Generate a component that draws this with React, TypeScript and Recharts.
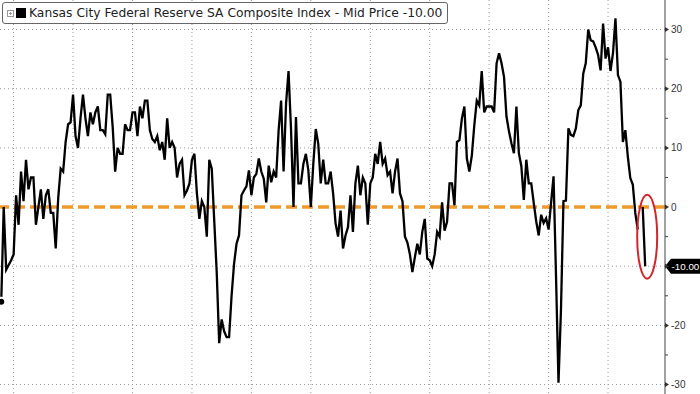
import React from 'react';
import { LineChart, Line, XAxis, YAxis, CartesianGrid, ReferenceLine, ReferenceDot } from 'recharts';

// Monthly readings, Aug 2001 .. May 2023 (index = months since Aug 2001)
const values: (number | null)[] = [
  -16, 0, -10.6, -9.8, -9, -8, 2, -3, 6, 1,
  8, 3, 5, 5, -3, 0, 3, -2, 2, 3,
  -1, -1, -7, 1.5, 6.5, 6, 11, 14, 14.3, 19,
  12, 10, 15, 19, 15, 12, 16, 14, 16, 17,
  13, 13, 12.3, 19, 19, 13.5, 6, 10, 9, 9,
  14, 13, 13, 16, 16, 12, 17, 15, 18, 18,
  13, 11.5, 11, 12, 9.6, 11, 8, 15, 10, 11,
  10, 5, 7.3, 8, 2, 2.8, 4, 8, 9, 2.3,
  -2, 1, 0, -5, 8, 6.5, -2.3, -11, -23, -19,
  -21, -22, -22, -15, -9.6, -6.2, -4.8, 2, 2.8, 3.5,
  6.2, 2, 5, 5.6, 8.2, 6, 4.8, 0.8, 7, 4.2,
  6, 5, 13, 18, 6, 17.5, 23, 13.2, 0, 15.2,
  4, 4, 7.3, 9, 6.2, 0, 7.3, 13.2, 10.7, 4,
  8, 4, 4, 6, 2.3, -2.8, -5, -0.6, -7, -4.8,
  -3.4, 2, -4.2, 4, 7, 2, 5, 4, -3, 4,
  5, 9, 7.3, 11, 7.3, 8.2, 5.4, 6, 2.3, 6,
  8.2, 2.3, 1, -5, -6, -8, -11, -8.5, -6.2, -8,
  -4.2, -2, -8.7, -9, -10, -8, -4.2, -5, 0.8, -4,
  -2.5, 4, 4, 0.3, 11, 11.3, 15, 17, 8.2, 6,
  8.7, 13.8, 18, 17.2, 23, 16, 17, 17, 17, 16,
  24.3, 26, 24.3, 22, 15.3, 12.8, 10.8, 9.1, 17, 9.1,
  6.9, 1.2, 8, 4, 4, 0.7, -2.4, -4.8, -1.3, -2.7,
  -1.9, -3.8, 0.7, 5.2, -11.7, -29.7, -17.3, 1, 1.1, 13.3,
  12.2, 12, 13.3, 16.4, 17.2, 22.6, 24.3, 30, 28.2, 28,
  27, 25.7, 23.1, 31, 25.1, 27, 23, 26, 31.9, 22.3,
  21.2, 11, 13, 8.5, 4.9, 3.8, -1, -3.8, null, 0,
  -10,
];

const yTicks = [-30, -25, -20, -15, -10, -5, 0, 5, 10, 15, 20, 25, 30];
const gridValuesY = [-30, -20, -10, 10, 20, 30];
// January of every second year (2002 .. 2022) as month indices
const gridValuesX = [5, 29, 53, 77, 101, 125, 149, 173, 197, 221, 245];
const xDomain: [number, number] = [-0.5, 268];
const yDomain: [number, number] = [-31.6, 35];

const seriesName = 'Kansas City Federal Reserve SA Composite Index - Mid Price';
const lastValue = -10;
const lastLabel = '-10.00';

const data = values.map((v, i) => ({ i, v }));

const FONT = "'Liberation Sans', Arial, sans-serif";
const LEGEND_FONT = "'DejaVu Sans', Verdana, sans-serif";

const YTick = (props: any) => {
  const { x, y, payload } = props;
  const major = payload.value % 10 === 0;
  if (!major) {
    return <line x1={x} x2={x + 3} y1={y} y2={y} stroke="#444" strokeWidth={1} />;
  }
  // the last-value box sits over this tick's label
  const covered = payload.value === lastValue;
  return (
    <g>
      <path d={`M${x},${y - 2.5} L${x + 4},${y} L${x},${y + 2.5} Z`} fill="#333" />
      {!covered && (
        <text x={x + 6} y={y} dy={3.6} fontSize={10} fill="#333" fontFamily={FONT}>
          {payload.value}
        </text>
      )}
    </g>
  );
};

const LastValueLabel = (props: any) => {
  const vb = props.viewBox || {};
  const right = vb.x + vb.width;
  const y = vb.y;
  return (
    <g>
      <path
        d={`M${right},${y} L${right + 6},${y - 7.5} L${right + 35},${y - 7.5} L${right + 35},${y + 7.5} L${right + 6},${y + 7.5} Z`}
        fill="#000"
      />
      <text x={right + 6.5} y={y} dy={3.5} fontSize={9.8} fill="#fff" fontFamily={FONT}>
        {lastLabel}
      </text>
    </g>
  );
};

const Ellipse = (p: any) => (
  <ellipse cx={p.cx + 2} cy={p.cy} rx={10} ry={42} fill="none" stroke="#d3262c" strokeWidth={2} />
);

export default function App() {
  return (
    <div style={{ position: 'absolute', left: 0, top: 0, width: 700, height: 394, background: '#fff', overflow: 'hidden' }}>
      <LineChart width={700} height={394} data={data} margin={{ top: 0, right: 0, bottom: 0, left: 0 }}>
        <CartesianGrid
          stroke="#9a9a9a"
          strokeDasharray="1 3"
          horizontalValues={gridValuesY}
          verticalValues={gridValuesX}
        />
        <XAxis dataKey="i" type="number" domain={xDomain} hide allowDataOverflow />
        <YAxis
          orientation="right"
          domain={yDomain}
          ticks={yTicks}
          interval={0}
          width={35}
          tickSize={0}
          tickMargin={0}
          tickLine={false}
          axisLine={{ stroke: '#444' }}
          tick={<YTick />}
          allowDataOverflow
        />
        <ReferenceLine y={0} stroke="#EE9A2E" strokeWidth={3.5} strokeDasharray="11 5" />
        <Line
          type="linear"
          dataKey="v"
          stroke="#000"
          strokeWidth={2.3}
          dot={false}
          connectNulls={false}
          isAnimationActive={false}
        />
        <ReferenceLine y={lastValue} stroke="none" label={<LastValueLabel />} />
        <ReferenceDot x={values.length - 1} y={lastValue / 2} shape={<Ellipse />} />
      </LineChart>
      <div
        style={{
          position: 'absolute',
          left: 2,
          top: 2,
          height: 22,
          boxSizing: 'border-box',
          border: '1px solid #666',
          borderRadius: 3,
          background: '#fff',
          display: 'flex',
          alignItems: 'center',
          padding: '0 5px 0 4px',
          fontFamily: LEGEND_FONT,
          fontSize: 12.3,
          color: '#222',
          whiteSpace: 'nowrap',
        }}
      >
        <svg width={7} height={7} style={{ marginRight: 2 }}>
          <rect x={0.5} y={0.5} width={6} height={6} fill="none" stroke="#999" />
          <line x1={2} x2={5} y1={3.5} y2={3.5} stroke="#999" />
          <line x1={3.5} x2={3.5} y1={2} y2={5} stroke="#999" />
        </svg>
        <span style={{ display: 'inline-block', width: 10, height: 10, background: '#000', marginRight: 3 }} />
        <span>{seriesName} {lastLabel}</span>
      </div>
    </div>
  );
}
